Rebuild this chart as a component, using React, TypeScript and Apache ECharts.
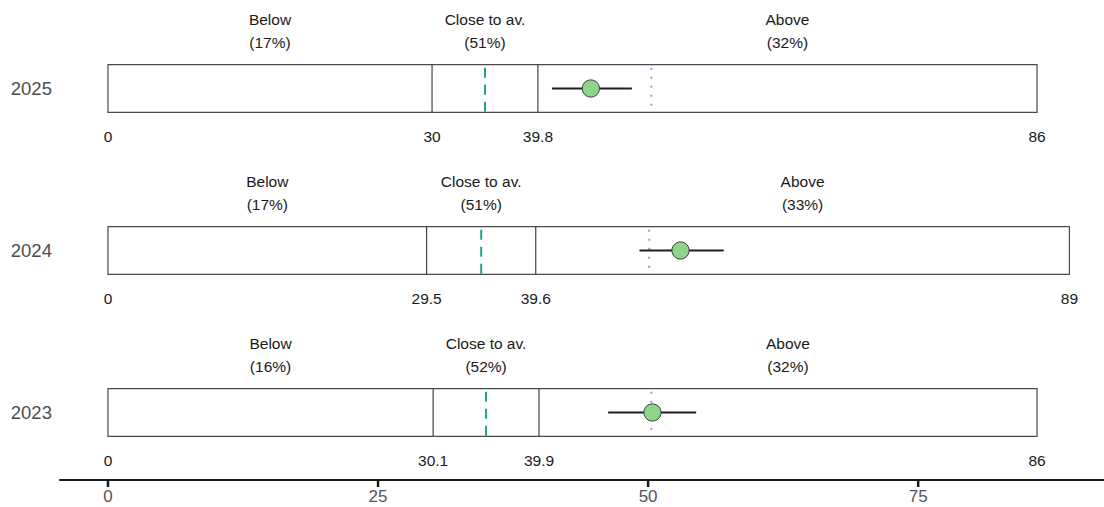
import React, { useEffect, useRef } from "react";
import * as echarts from "echarts";

const years = ["2025", "2024", "2023"];
const rowPositions = [2, 1, 0];
const lowerThreshold = [30, 29.5, 30.1];
const upperThreshold = [39.8, 39.6, 39.9];
const maxValue = [86, 89, 86];
const averageValue = [34.9, 34.55, 35.0];
const referenceValue = [50.3, 50.1, 50.3];
const estimate = [44.7, 53.0, 50.4];
const ciLow = [41.1, 49.2, 46.3];
const ciHigh = [48.5, 57.0, 54.45];
const belowPct = [17, 17, 16];
const closePct = [51, 51, 52];
const abovePct = [32, 33, 32];
const bandLabels = ["Below", "Close to av.", "Above"];
const axisTicks = [0, 25, 50, 75];

const FONT = "'Liberation Sans', Arial, Helvetica, sans-serif";
const Y_MIN = -0.4167;
const Y_MAX = 2.5463;

function txt(x: number, y: number, text: string, size: number, fill: string, align = "center") {
  return {
    type: "text",
    style: {
      x,
      y,
      text,
      fill,
      fontSize: size,
      fontFamily: FONT,
      align,
      textAlign: align,
      verticalAlign: "middle",
      textVerticalAlign: "middle",
    },
  };
}

export default function App() {
  const ref = useRef<HTMLDivElement>(null);
  useEffect(() => {
    if (!ref.current) return;
    const chart = echarts.init(ref.current, null, { renderer: "svg" });
    const halfH = 0.147;
    const renderItem = (params: any, api: any) => {
      const i = params.dataIndex;
      const r = rowPositions[i];
      const top = api.coord([0, r + halfH])[1];
      const bottom = api.coord([0, r - halfH])[1];
      const mid = api.coord([0, r])[1];
      const X = (v: number) => api.coord([v, r])[0];
      const x0 = X(0);
      const xL = X(lowerThreshold[i]);
      const xU = X(upperThreshold[i]);
      const xM = X(maxValue[i]);
      const children: any[] = [];
      children.push({
        type: "rect",
        shape: { x: x0, y: top, width: xM - x0, height: bottom - top },
        style: { fill: "#ffffff", stroke: "#4a4a4a", lineWidth: 1.2 },
      });
      [xL, xU].forEach((x) =>
        children.push({
          type: "line",
          shape: { x1: x, y1: top, x2: x, y2: bottom },
          style: { stroke: "#333333", lineWidth: 1.1 },
        })
      );
      const xa = X(averageValue[i]);
      children.push({
        type: "line",
        shape: { x1: xa, y1: top + 3, x2: xa, y2: bottom },
        style: { stroke: "#1fa08f", lineWidth: 2, lineDash: [10, 7] },
      });
      const xr = X(referenceValue[i]);
      children.push({
        type: "line",
        shape: { x1: xr, y1: top + 3, x2: xr, y2: bottom },
        style: { stroke: "#a68ee2", lineWidth: 2, lineDash: [2, 7] },
      });
      children.push({
        type: "line",
        shape: { x1: X(ciLow[i]), y1: mid, x2: X(ciHigh[i]), y2: mid },
        style: { stroke: "#1e1e1e", lineWidth: 2 },
      });
      children.push({
        type: "circle",
        shape: { cx: X(estimate[i]), cy: mid, r: 8.6 },
        style: { fill: "#90d38a", stroke: "#3a3a3a", lineWidth: 1 },
      });
      const bands = [
        [0, lowerThreshold[i], belowPct[i]],
        [lowerThreshold[i], upperThreshold[i], closePct[i]],
        [upperThreshold[i], maxValue[i], abovePct[i]],
      ];
      bands.forEach((b, k) => {
        const cx = X((b[0] + b[1]) / 2);
        children.push(txt(cx, top - 45, bandLabels[k], 15.5, "#1a1a1a"));
        children.push(txt(cx, top - 22, `(${b[2]}%)`, 15.5, "#1a1a1a"));
      });
      [0, lowerThreshold[i], upperThreshold[i], maxValue[i]].forEach((v) => {
        children.push(txt(X(v), bottom + 24.5, String(v), 15.5, "#1a1a1a"));
      });
      children.push(txt(x0 - 56, mid, years[i], 18.5, "#4d4d4d", "right"));
      return { type: "group", children };
    };

    chart.setOption({
      animation: false,
      grid: { left: 60, right: 0, top: 0, bottom: 27, outerBoundsMode: "none" },
      xAxis: {
        type: "value",
        min: -4.44,
        max: 92.2,
        splitLine: { show: false },
        axisLine: { show: true, onZero: false, lineStyle: { color: "#1a1a1a", width: 2 } },
        axisTick: { show: false },
        axisLabel: {
          customValues: axisTicks,
          color: "#555555",
          fontSize: 17,
          fontFamily: FONT,
          margin: 8,
        },
      },
      yAxis: {
        type: "value",
        min: Y_MIN,
        max: Y_MAX,
        show: false,
        splitLine: { show: false },
      },
      series: [
        {
          type: "custom",
          clip: false,
          renderItem,
          data: years.map((_, i) => [i, rowPositions[i]]),
          encode: { x: 0, y: 1 },
          z: 10,
        },
        {
          type: "scatter",
          data: axisTicks.map((v) => [v, Y_MIN]),
          symbol: "rect",
          symbolSize: [2.5, 8],
          symbolOffset: [0, 3],
          itemStyle: { color: "#1a1a1a", opacity: 1 },
          clip: false,
          silent: true,
          z: 20,
        },
      ],
    });
    return () => chart.dispose();
  }, []);
  return (
    <div
      ref={ref}
      style={{ position: "fixed", left: 0, top: 0, width: 1104, height: 507, background: "#fff" }}
    />
  );
}
